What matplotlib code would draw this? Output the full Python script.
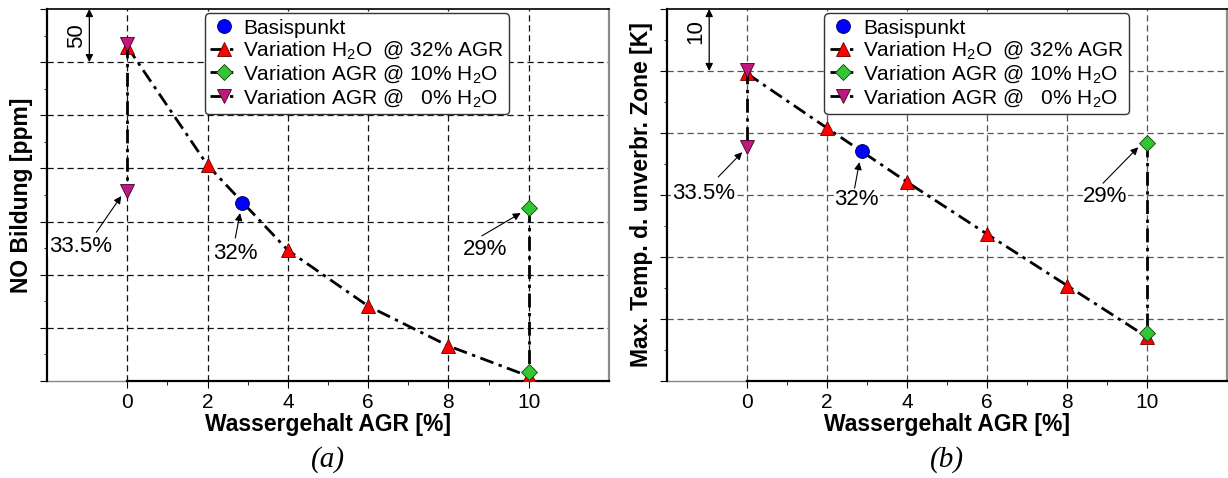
import matplotlib.pyplot as plt
from matplotlib.ticker import MultipleLocator, FixedLocator

plt.rcParams['font.family'] = ['Liberation Sans', 'DejaVu Sans']
plt.rcParams['mathtext.fontset'] = 'custom'
plt.rcParams['mathtext.rm'] = 'Liberation Sans'
plt.rcParams['mathtext.it'] = 'Liberation Sans:italic'
plt.rcParams['mathtext.bf'] = 'Liberation Sans:bold'

# --- data (y axes have no tick labels, values are relative) ---
h2o_x = [0, 2, 4, 6, 8, 10]
basis_x = [2.87]

# (a) NO Bildung [ppm]
no_h2o = [314.5, 203, 123, 70.5, 33, 4.5]
no_basis = [167.5]
no_agr10_x = [10, 10]
no_agr10 = [163, 8.5]
no_agr0_x = [0, 0]
no_agr0 = [317.5, 179]

# (b) Max. Temp. d. unverbr. Zone [K]
t_h2o = [49.6, 40.8, 32.1, 23.7, 15.4, 7.1]
t_basis = [37.1]
t_agr10_x = [10, 10]
t_agr10 = [38.4, 7.7]
t_agr0_x = [0, 0]
t_agr0 = [50.1, 37.7]

labels = ['Basispunkt',
          r'Variation H$_{\mathregular{2}}$O  @ 32% AGR',
          r'Variation AGR @ 10% H$_{\mathregular{2}}$O',
          r'Variation AGR @   0% H$_{\mathregular{2}}$O']

RED = '#ff0000'
GREEN = '#33c633'
MAGENTA = '#c0187f'
BLUE = '#0000ff'
DASHDOT = (0, (5, 2, 1.2, 2))
FS = 16

arrow = dict(arrowstyle='-|>', color='k', lw=0.8, mutation_scale=11,
             shrinkA=0, shrinkB=0)


def draw_panel(ax, y_h2o, y_basis, x10, y10, x0, y0, ymax, step, ylabel, gridcol):
    l_red, = ax.plot(h2o_x, y_h2o, color='k', lw=2, linestyle=DASHDOT,
                     marker='^', ms=10.5, mfc=RED, mec='#600000', mew=0.6,
                     zorder=3, label=labels[1])
    l_green, = ax.plot(x10, y10, color='k', lw=2, linestyle=DASHDOT,
                       marker='D', ms=8, mfc=GREEN, mec='#104010', mew=0.6,
                       zorder=4, label=labels[2])
    l_mag, = ax.plot(x0, y0, color='k', lw=2, linestyle=DASHDOT,
                     marker='v', ms=10.5, mfc=MAGENTA, mec='#400020', mew=0.6,
                     zorder=4, label=labels[3])
    l_blue, = ax.plot(basis_x, y_basis, linestyle='none', marker='o', ms=10,
                      mfc=BLUE, mec='#000050', mew=0.6, zorder=5,
                      label=labels[0])

    ax.set_xlim(-2, 12)
    ax.set_ylim(0, ymax)
    ax.xaxis.set_major_locator(FixedLocator([0, 2, 4, 6, 8, 10]))
    ax.xaxis.set_minor_locator(FixedLocator([1, 3, 5, 7, 9]))
    ax.yaxis.set_major_locator(MultipleLocator(step))
    ax.yaxis.set_minor_locator(MultipleLocator(step / 2))
    ax.set_yticklabels([])
    ax.tick_params(axis='x', which='major', direction='out', length=5,
                   labelsize=15, pad=3.5)
    ax.tick_params(axis='x', which='minor', direction='out', length=3)
    ax.tick_params(axis='y', which='major', direction='out', length=5)
    ax.tick_params(axis='y', which='minor', direction='out', length=2.5)

    for g in range(step, ymax, step):
        ax.axhline(g, color=gridcol, lw=0.9, linestyle=(0, (5, 3)), zorder=1)
    for g in [0, 2, 4, 6, 8, 10]:
        ax.axvline(g, color=gridcol, lw=0.9, linestyle=(0, (5, 3)), zorder=1)

    ax.spines['left'].set_linewidth(1.6)
    ax.spines['bottom'].set_linewidth(1.6)
    ax.spines['bottom'].set_bounds(0, 12)
    ax.plot([-2, 0], [0, 0], color='#888888', lw=1, clip_on=False, zorder=2)
    ax.spines['top'].set_linewidth(1.2)
    ax.spines['right'].set_color('#8c8c8c')
    ax.spines['right'].set_linewidth(1.6)

    ax.set_xlabel('Wassergehalt AGR [%]', fontsize=16.5, fontweight='bold')
    ax.xaxis.set_label_coords(0.5, -0.118)
    ax.xaxis.label.set_va('center')
    ax.set_ylabel(ylabel, fontsize=16.5, fontweight='bold')
    ax.yaxis.set_label_coords(-0.045, 0.5)
    ax.yaxis.label.set_va('center')

    leg = ax.legend(handles=[l_blue, l_red, l_green, l_mag], loc='upper left',
                    bbox_to_anchor=(0.281, 0.988), borderaxespad=0,
                    fontsize=15, labelspacing=0.1, handlelength=1.3,
                    handletextpad=0.3, borderpad=0.25, fancybox=True,
                    framealpha=1, edgecolor='#333333')
    leg.get_frame().set_linewidth(1.0)
    leg.set_zorder(6)


fig = plt.figure(figsize=(12.28, 4.78), dpi=100)
ax1 = fig.add_axes([47 / 1228, 97 / 478, 562 / 1228, 372 / 478])
ax2 = fig.add_axes([667 / 1228, 97 / 478, 560 / 1228, 372 / 478])

draw_panel(ax1, no_h2o, no_basis, no_agr10_x, no_agr10, no_agr0_x, no_agr0,
           350, 50, 'NO Bildung [ppm]', '#111111')
draw_panel(ax2, t_h2o, t_basis, t_agr10_x, t_agr10, t_agr0_x, t_agr0,
           60, 10, 'Max. Temp. d. unverbr. Zone [K]', '#555555')

# annotations (a)
ax1.annotate('', xy=(-0.945, 350), xytext=(-0.945, 300),
             arrowprops=dict(arrowstyle='<|-|>', color='k', lw=0.9,
                             mutation_scale=11, shrinkA=0, shrinkB=0))
ax1.text(-1.27, 325, '50', rotation=90, ha='center', va='center', fontsize=FS)
for txt, tpos, tail, head in [('33.5%', (-1.17, 127), (-0.77, 140), (-0.15, 174)),
                              ('32%', (2.69, 120), (2.69, 134.5), (2.81, 158)),
                              ('29%', (8.91, 124), (8.83, 136.5), (9.8, 158))]:
    ax1.text(*tpos, txt, ha='center', va='center', fontsize=FS, zorder=6,
             bbox=dict(facecolor='white', edgecolor='none', pad=0.5))
    ax1.annotate('', xy=head, xytext=tail, arrowprops=arrow, zorder=6)

# annotations (b)
ax2.annotate('', xy=(-0.945, 60), xytext=(-0.945, 50),
             arrowprops=dict(arrowstyle='<|-|>', color='k', lw=0.9,
                             mutation_scale=11, shrinkA=0, shrinkB=0))
ax2.text(-1.27, 56.3, '10', rotation=90, ha='center', va='center', fontsize=FS)
for txt, tpos, tail, head in [('33.5%', (-1.09, 30.3), (-0.72, 32.9), (-0.12, 36.9)),
                              ('32%', (2.74, 29.2), (2.69, 31.1), (2.81, 35.3)),
                              ('29%', (8.96, 29.8), (8.9, 31.9), (9.78, 37.7))]:
    ax2.text(*tpos, txt, ha='center', va='center', fontsize=FS, zorder=6,
             bbox=dict(facecolor='white', edgecolor='none', pad=0.5))
    ax2.annotate('', xy=head, xytext=tail, arrowprops=arrow, zorder=6)

fig.text(328 / 1228, 1 - 460 / 478, '(a)', ha='center', va='center',
         fontsize=21, fontstyle='italic', family='Liberation Serif')
fig.text(947 / 1228, 1 - 460 / 478, '(b)', ha='center', va='center',
         fontsize=21, fontstyle='italic', family='Liberation Serif')

fig.savefig('out.png', dpi=100)
